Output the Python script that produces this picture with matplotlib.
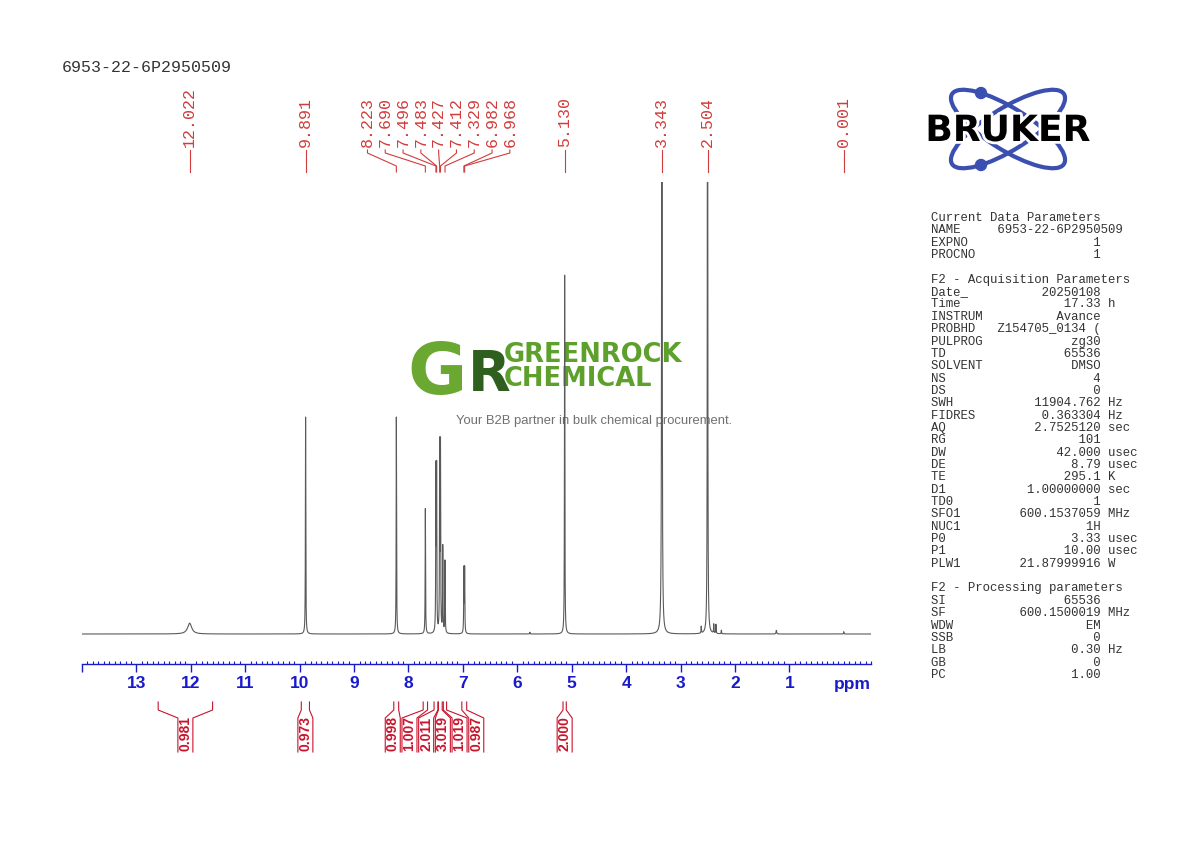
import numpy as np
import matplotlib
matplotlib.use("Agg")
import matplotlib.pyplot as plt
from matplotlib.patches import Ellipse, Circle
from matplotlib.transforms import blended_transform_factory
import matplotlib.patheffects as pe

W, H = 1190, 842

# ---------------- data ----------------
title = "6953-22-6P2950509"

peak_ppm = [12.022, 9.891, 8.223, 7.690, 7.496, 7.483, 7.427, 7.412, 7.370,
            7.329, 6.982, 6.968, 5.770, 5.130, 3.343, 2.620, 2.504, 2.390,
            2.350, 2.250, 1.240, 0.001]
peak_height = [2.4, 48.0, 48.0, 27.7, 35.0, 35.0, 40.5, 40.5, 19.0,
               16.0, 14.0, 14.0, 0.4, 79.4, 200.0, 1.5, 200.0, 2.0,
               2.0, 0.8, 0.8, 0.5]
peak_hwhm = [0.045, 0.004, 0.004, 0.004, 0.004, 0.004, 0.004, 0.004, 0.004,
             0.004, 0.004, 0.004, 0.004, 0.004, 0.005, 0.004, 0.004, 0.004,
             0.004, 0.004, 0.006, 0.004]

label_ppm = [12.022, 9.891, 8.223, 7.690, 7.496, 7.483, 7.427, 7.412, 7.329,
             6.982, 6.968, 5.130, 3.343, 2.504, 0.001]

integral_start = [12.60, 9.97, 8.27, 7.73, 7.53, 7.45, 7.36, 7.02, 5.16]
integral_end = [11.60, 9.82, 8.18, 7.65, 7.46, 7.38, 7.30, 6.93, 5.10]
integral_value = [0.981, 0.973, 0.998, 1.007, 2.011, 3.019, 1.019, 0.987, 2.000]

major_ticks = list(range(1, 14))
major_labels = [str(t) for t in major_ticks]

params = [
    ("Current Data Parameters", None, None),
    ("NAME", "6953-22-6P2950509", ""),
    ("EXPNO", "1", ""),
    ("PROCNO", "1", ""),
    ("", None, None),
    ("F2 - Acquisition Parameters", None, None),
    ("Date_", "20250108", ""),
    ("Time", "17.33", "h"),
    ("INSTRUM", "Avance", ""),
    ("PROBHD", "Z154705_0134 (", ""),
    ("PULPROG", "zg30", ""),
    ("TD", "65536", ""),
    ("SOLVENT", "DMSO", ""),
    ("NS", "4", ""),
    ("DS", "0", ""),
    ("SWH", "11904.762", "Hz"),
    ("FIDRES", "0.363304", "Hz"),
    ("AQ", "2.7525120", "sec"),
    ("RG", "101", ""),
    ("DW", "42.000", "usec"),
    ("DE", "8.79", "usec"),
    ("TE", "295.1", "K"),
    ("D1", "1.00000000", "sec"),
    ("TD0", "1", ""),
    ("SFO1", "600.1537059", "MHz"),
    ("NUC1", "1H", ""),
    ("P0", "3.33", "usec"),
    ("P1", "10.00", "usec"),
    ("PLW1", "21.87999916", "W"),
    ("", None, None),
    ("F2 - Processing parameters", None, None),
    ("SI", "65536", ""),
    ("SF", "600.1500019", "MHz"),
    ("WDW", "EM", ""),
    ("SSB", "0", ""),
    ("LB", "0.30", "Hz"),
    ("GB", "0", ""),
    ("PC", "1.00", ""),
]

# ---------------- styles ----------------
MONO = ["Liberation Mono", "DejaVu Sans Mono"]
SANS = ["Liberation Sans", "DejaVu Sans"]
RED_LBL = "#d23c3c"
RED_INT = "#c8142c"
BLUE = "#1a1acd"
SPEC = "#5a5a5a"

fig = plt.figure(figsize=(W / 100, H / 100), dpi=100)
ov = fig.add_axes([0, 0, 1, 1])
ov.set_xlim(0, W)
ov.set_ylim(H, 0)
ov.axis("off")

# spectrum axes (pixel layout)
x0, x1, ytop, yax, ybase = 82, 871, 182, 664, 634
ax = fig.add_axes([x0 / W, 1 - yax / H, (x1 - x0) / W, (yax - ytop) / H])
ax.patch.set_alpha(0)
ymin = -100.0 * (yax - ybase) / (ybase - ytop)
ax.set_xlim(14.0, -0.5)
ax.set_ylim(ymin, 100)

ppm = np.linspace(14.0, -0.5, 400001)
spec = np.zeros_like(ppm)
for p, h, w in zip(peak_ppm, peak_height, peak_hwhm):
    spec += h / (1.0 + ((ppm - p) / w) ** 2)
ax.plot(ppm, spec, color=SPEC, lw=0.8, zorder=3)

for s in ["top", "left", "right"]:
    ax.spines[s].set_visible(False)
ax.spines["bottom"].set_color(BLUE)
ax.spines["bottom"].set_linewidth(1.0)
ax.set_yticks([])
ax.set_xticks([14] + major_ticks)
ax.set_xticklabels([""] + major_labels)
ax.set_xticks(np.arange(-0.5, 14.01, 0.1), minor=True)
ax.tick_params(axis="x", which="major", direction="out", length=5.5, width=1.0,
               color=BLUE, labelcolor=BLUE, pad=3.5)
ax.tick_params(axis="x", which="minor", direction="in", length=2.2, width=0.8,
               color=BLUE)
for lab in ax.get_xticklabels():
    lab.set_fontfamily(SANS)
    lab.set_fontweight("bold")
    lab.set_fontsize(12.5)
ov.text(871, 685, "ppm", color=BLUE, fontsize=12.5, fontweight="bold",
        family=SANS, ha="right", va="center")

tr = blended_transform_factory(ax.transData, ov.transData)


def spread(centers, spacing):
    """Cluster positions so that labels spaced by `spacing` do not overlap."""
    order = sorted(range(len(centers)), key=lambda i: -centers[i])
    clusters = [[i] for i in order]
    changed = True
    while changed:
        changed = False
        for k in range(len(clusters) - 1):
            a, b = clusters[k], clusters[k + 1]
            ca = np.mean([centers[i] for i in a])
            cb = np.mean([centers[i] for i in b])
            low_a = ca - (len(a) - 1) / 2 * spacing
            high_b = cb + (len(b) - 1) / 2 * spacing
            if low_a - high_b < spacing:
                clusters[k] = a + b
                del clusters[k + 1]
                changed = True
                break
    pos = [0.0] * len(centers)
    for c in clusters:
        m = np.mean([centers[i] for i in c])
        n = len(c)
        for k, i in enumerate(c):
            pos[i] = m + ((n - 1) / 2 - k) * spacing
    return pos


pxppm = (x1 - x0) / 14.5

# peak labels at top
lab_pos = spread(label_ppm, 17.8 / pxppm)
for p, lp in zip(label_ppm, lab_pos):
    ax.text(lp, 147, f"{p:.3f}", transform=tr, rotation=90, ha="center",
            va="bottom", family=MONO, fontsize=12, color=RED_LBL)
    ax.plot([lp, lp, p, p], [150, 153, 166, 172], transform=tr, color=RED_LBL,
            lw=0.8, clip_on=False)

# integrals
int_center = [(a + b) / 2 for a, b in zip(integral_start, integral_end)]
int_pos = spread(int_center, 16.7 / pxppm)
hw = 7.5 / pxppm
for a, b, v, lp in zip(integral_start, integral_end, integral_value, int_pos):
    ax.plot([a, a, lp + hw, lp + hw], [702, 710, 718, 752], transform=tr,
            color=RED_INT, lw=0.8, clip_on=False)
    ax.plot([b, b, lp - hw, lp - hw], [702, 710, 718, 752], transform=tr,
            color=RED_INT, lw=0.8, clip_on=False)
    ax.text(lp, 751, f"{v:.3f}", transform=tr, rotation=90, ha="center",
            va="bottom", family=SANS, fontweight="bold", fontsize=10,
            color=RED_INT)

# title
ov.text(62, 68, title, family=MONO, fontsize=12, color="#333333",
        ha="left", va="center")

# parameter block
for i, (lab, val, unit) in enumerate(params):
    if val is None:
        line = lab
    else:
        start = max(9, 23 - len(val))
        line = lab.ljust(start) + val
        if unit:
            line = line.ljust(24) + unit
    ov.text(931, 218 + i * 12.35, line, family=MONO, fontsize=8.9,
            color="#333333", ha="left", va="center")

# Bruker logo
cx, cy = 1008, 129
ea, eb, eth = 132, 42, 32.0
orbit = "#3a4fb0"
for ang in (eth, -eth):
    ov.add_patch(Ellipse((cx, cy), ea, eb, angle=ang, fill=False,
                         edgecolor=orbit, lw=3.0, zorder=2))
tt = np.linspace(0, 2 * np.pi, 2000)
for ang, target in ((eth, (982, 90)), (-eth, (982, 168))):
    th = np.radians(ang)
    px = cx + ea / 2 * np.cos(tt) * np.cos(th) - eb / 2 * np.sin(tt) * np.sin(th)
    py = cy + ea / 2 * np.cos(tt) * np.sin(th) + eb / 2 * np.sin(tt) * np.cos(th)
    k = np.argmin((px - target[0]) ** 2 + (py - target[1]) ** 2)
    ov.add_patch(Circle((px[k], py[k]), 5.5, color=orbit, zorder=4))
ov.text(cx, 131, "BRUKER", family=["DejaVu Sans"], fontweight="bold",
        fontsize=26, color="black", ha="center", va="center", zorder=5,
        path_effects=[pe.withStroke(linewidth=4, foreground="white")])

# Greenrock watermark
ov.text(407, 394, "G", family=["DejaVu Sans"], fontweight="bold", fontsize=52,
        color="#6aa832", ha="left", va="baseline", zorder=1)
ov.text(468, 390, "R", family=["DejaVu Sans"], fontweight="bold", fontsize=40,
        color="#2f5f1f", ha="left", va="baseline", zorder=1)
ov.text(504, 362, "GREENROCK", family=["DejaVu Sans"], fontweight="bold",
        fontsize=18.5, color="#5ea02c", ha="left", va="baseline", zorder=1)
ov.text(504, 386, "CHEMICAL", family=["DejaVu Sans"], fontweight="bold",
        fontsize=18.5, color="#5ea02c", ha="left", va="baseline", zorder=1)
ov.text(456, 421, "Your B2B partner in bulk chemical procurement.",
        family=SANS, fontsize=9.4, color="#707070", ha="left", va="center",
        zorder=1)

fig.savefig("out.png", dpi=100)
